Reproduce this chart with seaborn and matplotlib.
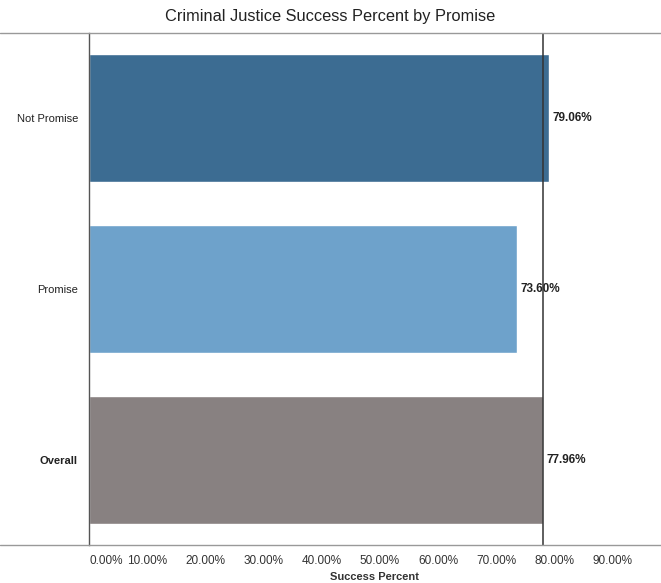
import matplotlib
matplotlib.use("Agg")
import matplotlib.pyplot as plt
from matplotlib.lines import Line2D
import seaborn as sns
import pandas as pd

categories = ["Not Promise", "Promise", "Overall"]
success_pct = [79.06, 73.60, 77.96]
bar_colors = ["#3c6c92", "#6ea2cb", "#888181"]
x_ticks = [0, 10, 20, 30, 40, 50, 60, 70, 80, 90]
x_tick_labels = ["0.00%", "10.00%", "20.00%", "30.00%", "40.00%",
                 "50.00%", "60.00%", "70.00%", "80.00%", "90.00%"]

sns.set_theme(style="white")
plt.rcParams['font.family'] = ['Liberation Sans', 'DejaVu Sans']

W, H = 661, 583
fig = plt.figure(figsize=(W / 100, H / 100), dpi=100)
ax = fig.add_axes([89 / W, 1 - 545 / H, 1 - 89 / W, (545 - 33) / H])

df = pd.DataFrame({"cat": categories, "val": success_pct})
sns.barplot(data=df, x="val", y="cat", hue="cat", palette=bar_colors,
            width=0.75, ax=ax, legend=False, saturation=1, orient="h")

ax.set_xlim(0, (W - 89) / 5.82)
ax.set_ylim(2.5, -0.5)

# reference line at overall value
ax.axvline(success_pct[2], color="#333333", lw=1.1, zorder=5)

for i, v in enumerate(success_pct):
    ax.text(v + 0.6, i, f"{v:.2f}%", va="center", ha="left",
            fontsize=8.5, fontweight="bold", color="#222222")

ax.set_xticks(x_ticks)
ax.set_xticklabels(x_tick_labels, fontsize=8.5, color="#333333")
lbls = ax.get_xticklabels()
lbls[0].set_ha("left")
ax.tick_params(axis="x", length=3, width=0.8, color="#888888", pad=6, direction="inout")
ax.tick_params(axis="y", length=0, pad=8)
ax.set_yticks(range(len(categories)))
ax.set_yticklabels(categories, fontsize=8, color="#222222")
ax.get_yticklabels()[2].set_fontweight("bold")

ax.set_xlabel("Success Percent", fontsize=8, fontweight="bold", color="#333333", labelpad=3)
ax.set_ylabel("")

for s in ["top", "bottom", "right"]:
    ax.spines[s].set_visible(False)
ax.spines["left"].set_color("#555555")
ax.spines["left"].set_linewidth(1.0)

# full-width horizontal rules
for yy in [33, 545]:
    fig.add_artist(Line2D([0, 1], [1 - yy / H, 1 - yy / H], transform=fig.transFigure,
                          color="#999999", lw=1.0))

fig.text(0.5, 1 - 17 / H, "Criminal Justice Success Percent by Promise",
         ha="center", va="center", fontsize=11.8, color="#222222")

fig.savefig("out.png", dpi=100)
